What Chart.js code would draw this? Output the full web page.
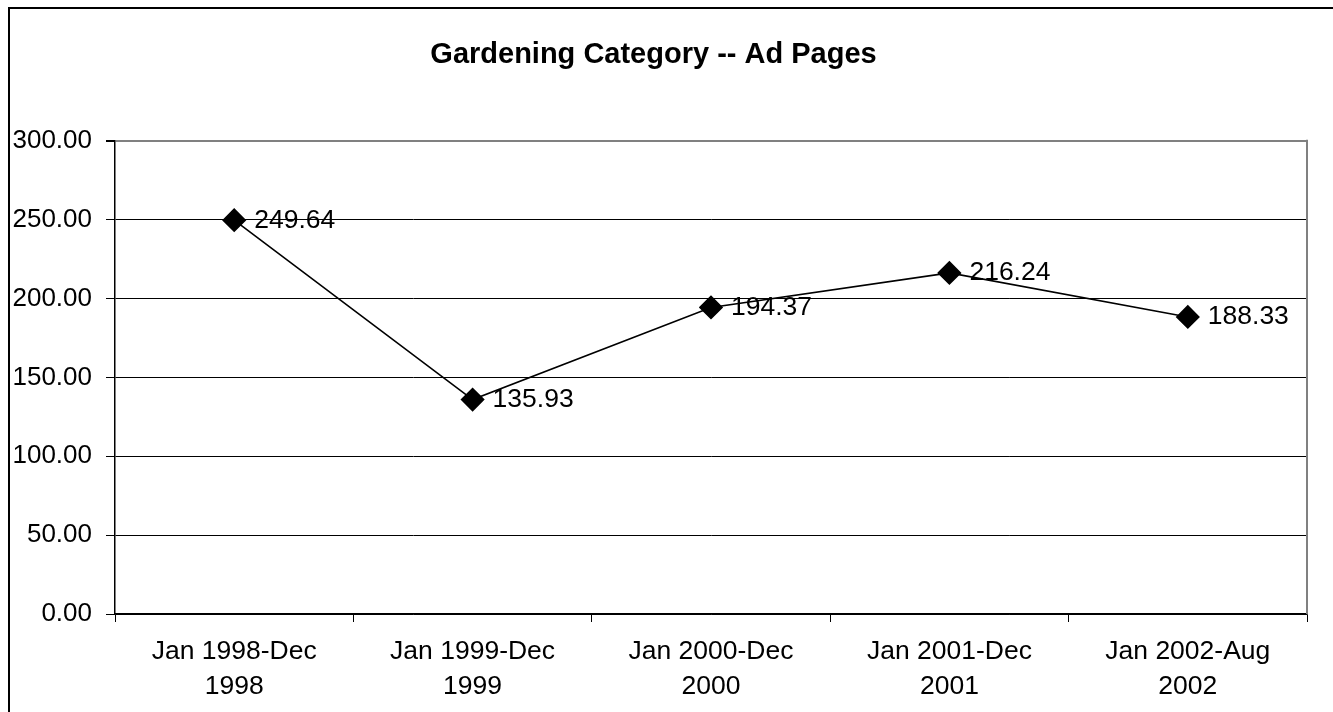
<!DOCTYPE html>
<html>
<head>
<meta charset="utf-8">
<title>Gardening Category -- Ad Pages</title>
<script src="https://cdn.jsdelivr.net/npm/chart.js@4.4.1/dist/chart.umd.min.js"></script>
<style>
  html, body { margin: 0; padding: 0; background: #fff; overflow: hidden; }
  canvas { display: block; }
</style>
</head>
<body>
<canvas id="adPagesChart" width="1333" height="712"></canvas>
<script>
// Données du graphique
const periods = [
    ['Jan 1998-Dec', '1998'],
    ['Jan 1999-Dec', '1999'],
    ['Jan 2000-Dec', '2000'],
    ['Jan 2001-Dec', '2001'],
    ['Jan 2002-Aug', '2002']
];
const adPages = [249.64, 135.93, 194.37, 216.24, 188.33];
const yTicks = [0, 50, 100, 150, 200, 250, 300];

const FONT = '"Liberation Sans", Arial, Helvetica, sans-serif';

// Étiquettes de valeur à droite de chaque point
const pointLabels = {
    id: 'pointLabels',
    afterDatasetsDraw(chart) {
        const ctx = chart.ctx;
        const meta = chart.getDatasetMeta(0);
        ctx.save();
        ctx.font = '26.5px ' + FONT;
        ctx.fillStyle = '#000';
        ctx.textAlign = 'left';
        ctx.textBaseline = 'middle';
        meta.data.forEach((pt, i) => {
            ctx.fillText(adPages[i].toFixed(2), pt.x + 20, pt.y);
        });
        ctx.restore();
    }
};

// Cadre extérieur et bord droit gris de la zone de tracé
const frame = {
    id: 'frame',
    afterDraw(chart) {
        const ctx = chart.ctx;
        const a = chart.chartArea;
        ctx.save();
        ctx.strokeStyle = '#808080';
        ctx.lineWidth = 2;
        ctx.beginPath();
        ctx.moveTo(a.right, a.top - 1);
        ctx.lineTo(a.right, a.bottom);
        ctx.stroke();
        ctx.strokeStyle = '#000';
        ctx.lineWidth = 2;
        ctx.strokeRect(9, 8, 3000, 3000);
        ctx.restore();
    }
};

new Chart(document.getElementById('adPagesChart'), {
    type: 'line',
    data: {
        labels: periods,
        datasets: [{
            data: adPages,
            borderColor: '#000',
            borderWidth: 1.6,
            backgroundColor: '#000',
            pointStyle: 'rectRot',
            pointRadius: 11,
            pointHoverRadius: 11,
            pointBackgroundColor: '#000',
            pointBorderColor: '#000',
            tension: 0
        }]
    },
    options: {
        responsive: false,
        animation: false,
        devicePixelRatio: 1,
        layout: { padding: { left: 0, right: 26, top: 0, bottom: 0 } },
        plugins: {
            legend: { display: false },
            tooltip: { enabled: false },
            title: {
                display: true,
                text: 'Gardening Category -- Ad Pages',
                color: '#000',
                font: { family: FONT, size: 29, weight: 'bold', lineHeight: 1.2 },
                padding: { top: 38, bottom: 68 }
            }
        },
        scales: {
            x: {
                offset: true,
                grid: {
                    offset: true,
                    drawOnChartArea: false,
                    drawTicks: true,
                    tickLength: 8,
                    color: '#000',
                    lineWidth: 1
                },
                border: { display: true, color: '#000', width: 1.5 },
                ticks: {
                    color: '#000',
                    font: { family: FONT, size: 26.5, lineHeight: 1.32 },
                    padding: 12,
                    maxRotation: 0,
                    autoSkip: false
                },
                afterFit(scale) { scale.height = 98; }
            },
            y: {
                min: yTicks[0],
                max: yTicks[yTicks.length - 1],
                afterBuildTicks(scale) {
                    scale.ticks = yTicks.map(v => ({ value: v }));
                },
                grid: {
                    color: ctx => ctx.tick && ctx.tick.value === 300 ? '#808080' : '#000',
                    lineWidth: ctx => ctx.tick && ctx.tick.value === 300 ? 2 : 1,
                    tickColor: '#000',
                    tickLength: 9
                },
                border: { display: true, color: '#000', width: 1.5 },
                ticks: {
                    color: '#000',
                    font: { family: FONT, size: 26 },
                    padding: 14,
                    callback: v => Number(v).toFixed(2)
                },
                afterFit(scale) { scale.width = 115; }
            }
        }
    },
    plugins: [pointLabels, frame]
});
</script>
</body>
</html>
